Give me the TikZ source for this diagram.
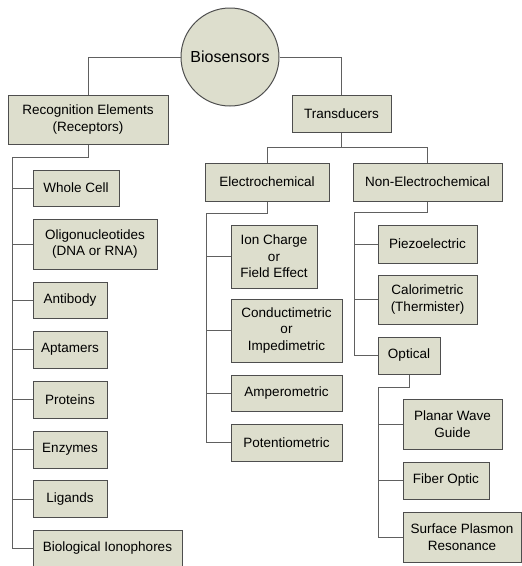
\documentclass[tikz,border=0pt]{standalone}
\usepackage{fontspec}
\setmainfont{Liberation Sans}
\usepackage{tikz}
\usetikzlibrary{calc}
\definecolor{boxfill}{RGB}{221,222,205}
\definecolor{boxline}{RGB}{78,78,78}
\definecolor{wire}{RGB}{96,96,96}

\begin{document}
\begin{tikzpicture}[x=1pt,y=-1pt,
		box/.style={draw=boxline, fill=boxfill, line width=1pt, align=center, inner sep=0pt,
			font=\fontsize{13.5}{16.5}\selectfont},
		conn/.style={draw=wire, line width=0.9pt}]
			\useasboundingbox (0,0) rectangle (522,566);
			\node[circle, draw=boxline, fill=boxfill, line width=1pt, minimum size=98pt, inner sep=0pt,
				font=\fontsize{16}{19}\selectfont] (Bio) at (230,57) {Biosensors};
			\node[box, minimum width=160pt, minimum height=49pt] (Rec) at (88,119.5) {Recognition Elements\\(Receptors)};
			\node[box, minimum width=99pt, minimum height=37pt] (Trans) at (341.5,113.5) {Transducers};
            \node[box, minimum width=86pt, minimum height=36pt] (Cell) at (76,188) {Whole Cell};
            \node[box, minimum width=124pt, minimum height=50pt] (Oligo) at (95,244) {Oligonucleotides\\(DNA or RNA)};
            \node[box, minimum width=74pt, minimum height=36pt] (Anti) at (70,300) {Antibody};
            \node[box, minimum width=74pt, minimum height=37pt] (Apta) at (70,349.5) {Aptamers};
            \node[box, minimum width=74pt, minimum height=37pt] (Prot) at (70,399.5) {Proteins};
            \node[box, minimum width=74pt, minimum height=37pt] (Enz) at (70,449.5) {Enzymes};
            \node[box, minimum width=74pt, minimum height=37pt] (Lig) at (70,499) {Ligands};
            \node[box, minimum width=149pt, minimum height=36pt] (Iono) at (107.5,548) {Biological Ionophores};
            \node[box, minimum width=124pt, minimum height=38pt] (Elec) at (267,182) {Electrochemical};
            \node[box, minimum width=149pt, minimum height=38pt] (NonElec) at (427.5,182) {Non-Electrochemical};
            \node[box, minimum width=86pt, minimum height=63pt] (Ion) at (274,256.5) {Ion Charge\\or\\Field Effect};
            \node[box, minimum width=111pt, minimum height=63pt] (Cond) at (286.5,330.5) {Conductimetric\\or\\Impedimetric};
            \node[box, minimum width=111pt, minimum height=36pt] (Amp) at (286.5,393) {Amperometric};
            \node[box, minimum width=111pt, minimum height=37pt] (Pot) at (286.5,442.5) {Potentiometric};
            \node[box, minimum width=99pt, minimum height=38pt] (Piezo) at (427.5,244) {Piezoelectric};
            \node[box, minimum width=99pt, minimum height=49pt] (Calor) at (427.5,299.5) {Calorimetric\\(Thermister)};
            \node[box, minimum width=62pt, minimum height=37pt] (Opt) at (409,355.5) {Optical};
            \node[box, minimum width=99pt, minimum height=50pt] (Planar) at (452.5,424) {Planar Wave\\Guide};
            \node[box, minimum width=86pt, minimum height=37pt] (Fiber) at (446,480.5) {Fiber Optic};
            \node[box, minimum width=118pt, minimum height=50pt] (Plasmon) at (462,537) {Surface Plasmon\\Resonance};
			\coordinate (RecBus) at (12,157);
			\coordinate (TransBus) at (341.5,147);
			\coordinate (ElecBus) at (206,213);
			\coordinate (NonElecBus) at (354,212);
			\coordinate (OptBus) at (378,387);
			\draw[conn] (Bio) -| (Rec);
			\draw[conn] (Bio) -| (Trans);
			\draw[conn] (Rec) |- (RecBus);
			\draw[conn] (RecBus) |- (Cell);
			\draw[conn] (RecBus) |- (Oligo);
			\draw[conn] (RecBus) |- (Anti);
			\draw[conn] (RecBus) |- (Apta);
			\draw[conn] (RecBus) |- (Prot);
			\draw[conn] (RecBus) |- (Enz);
			\draw[conn] (RecBus) |- (Lig);
			\draw[conn] (RecBus) |- (Iono);
			\draw[conn] (Trans) -- (TransBus);
			\draw[conn] (TransBus) -| (Elec);
			\draw[conn] (TransBus) -| (NonElec);
			\draw[conn] (Elec) |- (ElecBus);
			\draw[conn] (ElecBus) |- (Ion);
			\draw[conn] (ElecBus) |- (Cond);
			\draw[conn] (ElecBus) |- (Amp);
			\draw[conn] (ElecBus) |- (Pot);
			\draw[conn] (NonElec) |- (NonElecBus);
			\draw[conn] (NonElecBus) |- (Piezo);
			\draw[conn] (NonElecBus) |- (Calor);
			\draw[conn] (NonElecBus) |- (Opt);
			\draw[conn] (Opt) |- (OptBus);
			\draw[conn] (OptBus) |- (Planar);
			\draw[conn] (OptBus) |- (Fiber);
			\draw[conn] (OptBus) |- (Plasmon);
        \end{tikzpicture}
\end{document}
